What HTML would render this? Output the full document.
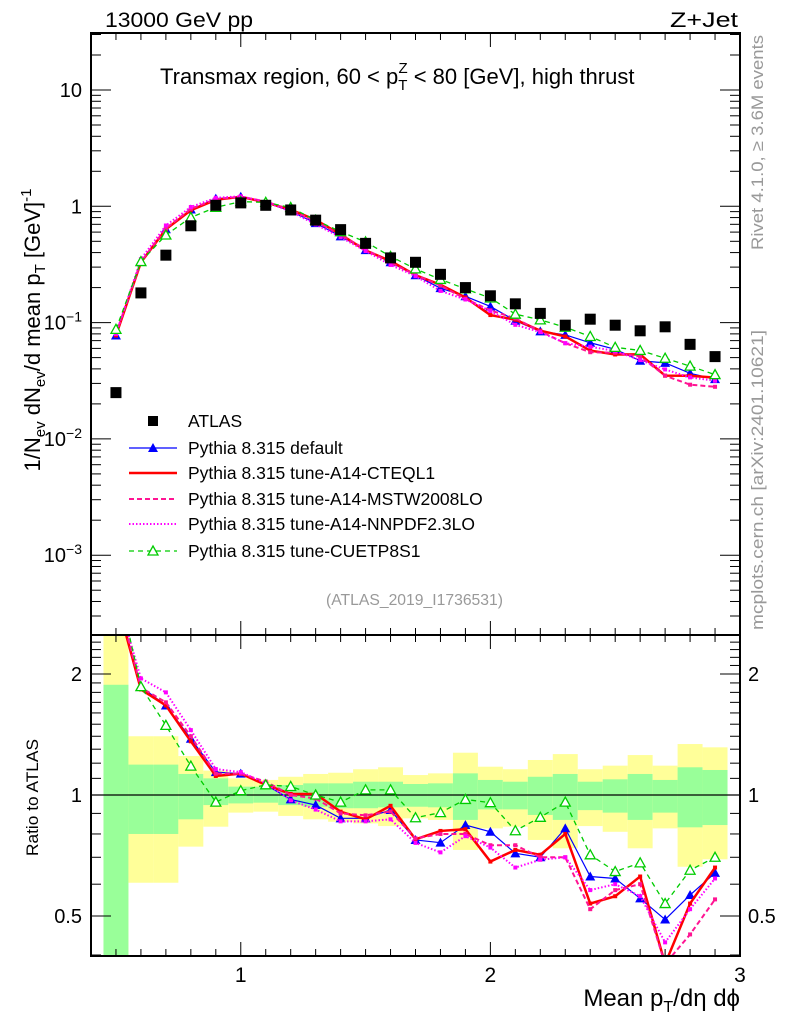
<!DOCTYPE html>
<html><head><meta charset="utf-8"><style>
body{margin:0;background:#fff;}
svg{display:block;font-family:"Liberation Sans",sans-serif;}
</style></head><body>
<svg id="c" width="786" height="1024" viewBox="0 0 786 1024">
<g id="bands"></g><g id="series"></g><g id="axes"></g>
<text x="105" y="27" font-size="21" textLength="148" lengthAdjust="spacingAndGlyphs">13000 GeV pp</text>
<text x="670" y="27" font-size="21" textLength="68" lengthAdjust="spacingAndGlyphs">Z+Jet</text>
<text x="160" y="84" font-size="22">Transmax region, 60 &lt; p<tspan font-size="15" dy="6">T</tspan><tspan font-size="15" dx="-9" dy="-17">Z</tspan><tspan dy="11"> &lt; 80 [GeV], high thrust</tspan></text>
<text transform="translate(40,330) rotate(-90)" font-size="22" text-anchor="middle">1/N<tspan font-size="15" dy="5">ev</tspan><tspan dy="-5"> dN</tspan><tspan font-size="15" dy="5">ev</tspan><tspan dy="-5">/d mean p</tspan><tspan font-size="15" dy="5">T</tspan><tspan dy="-5"> [GeV]</tspan><tspan font-size="15" dy="-9">-1</tspan></text>
<text transform="translate(763,250) rotate(-90)" font-size="17" fill="#999" textLength="215" lengthAdjust="spacingAndGlyphs">Rivet 4.1.0, ≥ 3.6M events</text>
<text transform="translate(763,630) rotate(-90)" font-size="17" fill="#999" textLength="300" lengthAdjust="spacingAndGlyphs">mcplots.cern.ch [arXiv:2401.10621]</text>
<text x="326" y="605" font-size="16" fill="#999" textLength="177" lengthAdjust="spacingAndGlyphs">(ATLAS_2019_I1736531)</text>
<text transform="translate(38,856) rotate(-90)" font-size="17" textLength="117" lengthAdjust="spacingAndGlyphs">Ratio to ATLAS</text>
<text x="740" y="1006" font-size="24" text-anchor="end">Mean p<tspan font-size="16" dy="6">T</tspan><tspan dy="-6">/dη dϕ</tspan></text>
<g id="legend"></g>
</svg>
<script>
const xs=[0.5,0.6,0.7,0.8,0.9,1.0,1.1,1.2,1.3,1.4,1.5,1.6,1.7,1.8,1.9,2.0,2.1,2.2,2.3,2.4,2.5,2.6,2.7,2.8,2.9];
const atlas=[0.025,0.18,0.38,0.68,1.02,1.07,1.02,0.93,0.76,0.63,0.48,0.36,0.33,0.26,0.2,0.17,0.145,0.12,0.095,0.107,0.095,0.085,0.092,0.065,0.051];
const rDefault=[3.1,1.86,1.67,1.38,1.14,1.13,1.06,0.975,0.944,0.875,0.875,0.918,0.773,0.761,0.842,0.81,0.716,0.70,0.826,0.627,0.62,0.553,0.49,0.564,0.64];
const rCTEQ=[3.1,1.83,1.67,1.36,1.115,1.13,1.06,1.006,1.006,0.909,0.87,0.94,0.776,0.814,0.822,0.683,0.73,0.71,0.80,0.537,0.56,0.627,0.38,0.537,0.66];
const rMSTW=[3.2,1.85,1.7,1.4,1.13,1.13,1.08,1.0,0.98,0.9,0.89,0.91,0.78,0.8,0.8,0.75,0.75,0.7,0.7,0.52,0.58,0.6,0.38,0.45,0.55];
const rNNPDF=[3.2,1.95,1.8,1.45,1.16,1.14,1.07,0.97,0.92,0.86,0.86,0.87,0.76,0.72,0.79,0.74,0.66,0.69,0.7,0.58,0.6,0.56,0.43,0.52,0.62];
const rCUETP=[3.5,1.86,1.49,1.18,0.96,1.025,1.06,1.05,1.0,0.96,1.03,1.03,0.878,0.904,0.975,0.957,0.815,0.88,0.96,0.71,0.645,0.678,0.537,0.65,0.70];
const yelHi=[3,1.40,1.40,1.25,1.15,1.10,1.09,1.11,1.128,1.136,1.159,1.172,1.121,1.132,1.274,1.176,1.159,1.222,1.264,1.159,1.183,1.257,1.183,1.339,1.314];
const grnHi=[1.88,1.19,1.19,1.128,1.10,1.049,1.049,1.059,1.069,1.069,1.079,1.079,1.065,1.069,1.132,1.09,1.079,1.11,1.128,1.079,1.094,1.128,1.09,1.172,1.154];
const grnLo=[0.3,0.80,0.80,0.87,0.944,0.953,0.957,0.944,0.935,0.927,0.927,0.932,0.935,0.932,0.867,0.921,0.921,0.892,0.867,0.917,0.904,0.867,0.904,0.831,0.842];
const yelLo=[0.3,0.605,0.605,0.744,0.834,0.904,0.909,0.887,0.87,0.858,0.85,0.837,0.875,0.867,0.73,0.826,0.834,0.773,0.737,0.837,0.81,0.737,0.826,0.663,0.692];
const mainTicks=[10,1,0.1,0.01,0.001];
const mainTickLabels=["10","1","10<tspan font-size='14' dy='-8'>−1</tspan>","10<tspan font-size='14' dy='-8'>−2</tspan>","10<tspan font-size='14' dy='-8'>−3</tspan>"];
const ratioTicks=[2,1,0.5];
const ratioTickLabels=["2","1","0.5"];
const xTicks=[1,2,3];

const NS="http://www.w3.org/2000/svg";
const L=91,R=740,T=33,MB=635,RB=956;
const X=v=>L+(v-0.4)*(R-L)/2.6;
const Y=v=>90-(Math.log10(v)-1)*116.3;
const YR=v=>795-Math.log(v)*174.6;
function el(tag,attrs,parent){const e=document.createElementNS(NS,tag);for(const k in attrs)e.setAttribute(k,attrs[k]);parent.appendChild(e);return e;}
const bands=document.getElementById('bands'),ser=document.getElementById('series'),ax=document.getElementById('axes'),leg=document.getElementById('legend');
const clampR=v=>Math.min(YR(Math.max(v,0.39)),RB);
const clampT=v=>Math.max(YR(Math.min(v,2.6)),MB);
xs.forEach((x,i)=>{
  const x0=X(x-0.05),w=X(x+0.05)-x0;
  let r=el('rect',{x:x0,y:clampT(yelHi[i]),width:w,height:clampR(yelLo[i])-clampT(yelHi[i]),fill:'#ffff99'},bands);
  
  
  r=el('rect',{x:x0,y:clampT(grnHi[i]),width:w,height:clampR(grnLo[i])-clampT(grnHi[i]),fill:'#99ff99'},bands);
  
  
});
const defs=el('defs',{},document.getElementById('c'));
const cp1=el('clipPath',{id:'cm'},defs);el('rect',{x:L,y:T,width:R-L,height:MB-T},cp1);
const cp2=el('clipPath',{id:'cr'},defs);el('rect',{x:L,y:MB,width:R-L,height:RB-MB},cp2);
let ul=el('line',{x1:L,x2:R,y1:YR(1),y2:YR(1),stroke:'#000','stroke-width':1.2},ser);


const series=[
 {name:'default',r:rDefault,c:'#0000ff',w:1.2,d:'',m:'tri'},
 {name:'cteql1',r:rCTEQ,c:'#ff0000',w:2.5,d:'',m:'none'},
 {name:'mstw2008lo',r:rMSTW,c:'#ff1493',w:2,d:'5,3',m:'none'},
 {name:'nnpdf23lo',r:rNNPDF,c:'#ff00ff',w:2,d:'1.5,2',m:'none'},
 {name:'cuetp8s1',r:rCUETP,c:'#00cc00',w:1.3,d:'5,4',m:'otri'}
];
series.forEach(s=>{
  const gm=el('g',{'clip-path':'url(#cm)'},ser);
  
  
  const gr=el('g',{'clip-path':'url(#cr)'},ser);
  
  
  const pm=xs.map((x,i)=>X(x)+','+Y(atlas[i]*s.r[i])).join(' ');
  const pr=xs.map((x,i)=>X(x)+','+YR(s.r[i])).join(' ');
  el('polyline',{points:pm,fill:'none',stroke:s.c,'stroke-width':s.w,'stroke-dasharray':s.d},gm);
  el('polyline',{points:pr,fill:'none',stroke:s.c,'stroke-width':s.w,'stroke-dasharray':s.d},gr);
  xs.forEach((x,i)=>{
    [[gm,Y(atlas[i]*s.r[i])],[gr,YR(s.r[i])]].forEach(([g,y])=>{
      const px=X(x);
      if(s.m==='tri'){const m=el('path',{d:`M${px},${y-5} L${px+5},${y+4} L${px-5},${y+4}Z`,fill:s.c},g);}
      else if(s.m==='otri'){const m=el('path',{d:`M${px},${y-5} L${px+5},${y+4} L${px-5},${y+4}Z`,fill:'#fff',stroke:s.c,'stroke-width':1.3},g);}
      else {const m=el('rect',{x:px-2,y:y-2,width:4,height:4,fill:s.c},g);}
    });
  });
});
xs.forEach((x,i)=>{
  const r=el('rect',{x:X(x)-5.5,y:Y(atlas[i])-5.5,width:11,height:11,fill:'#000'},ser);
  
  
});
[[T,MB],[MB,RB]].forEach(([a,b])=>{el('rect',{x:L,y:a,width:R-L,height:b-a,fill:'none',stroke:'#000','stroke-width':2},ax);});
for(let v=0.5;v<3.0;v+=0.1){const px=X(v);const major=Math.abs(v-Math.round(v))<1e-6;const len=major?14:7;
  [T,MB].forEach(y=>el('line',{x1:px,x2:px,y1:y,y2:y+len,stroke:'#000','stroke-width':1},ax));
  [MB,RB].forEach(y=>el('line',{x1:px,x2:px,y1:y,y2:y-len,stroke:'#000','stroke-width':1},ax));}
xTicks.forEach(v=>{const t=el('text',{x:X(v),y:982,'font-size':21,'text-anchor':'middle'},ax);t.textContent=v;});
for(let e=-4;e<=1;e++){for(let k=1;k<10;k++){const v=k*Math.pow(10,e);const y=Y(v);if(y<T||y>MB)continue;const len=k===1?20:10;
  el('line',{x1:L,x2:L+len,y1:y,y2:y,stroke:'#000'},ax);el('line',{x1:R,x2:R-len,y1:y,y2:y,stroke:'#000'},ax);}}
mainTicks.forEach((v,i)=>{const t=el('text',{x:82,y:Y(v)+7,'font-size':20,'text-anchor':'end'},ax);t.innerHTML=mainTickLabels[i];});
for(let v=0.4;v<=2.55;v+=0.1){const y=YR(v);if(y<MB||y>RB)continue;const maj=[0.5,1,2].some(m=>Math.abs(m-v)<1e-6);const len=maj?20:10;
  el('line',{x1:L,x2:L+len,y1:y,y2:y,stroke:'#000'},ax);el('line',{x1:R,x2:R-len,y1:y,y2:y,stroke:'#000'},ax);}
ratioTicks.forEach((v,i)=>{[[82,'end'],[748,'start']].forEach(([x,a])=>{const t=el('text',{x:x,y:YR(v)+7,'font-size':20,'text-anchor':a},ax);t.textContent=ratioTickLabels[i];});});
const legNames=['ATLAS','Pythia 8.315 default','Pythia 8.315 tune-A14-CTEQL1','Pythia 8.315 tune-A14-MSTW2008LO','Pythia 8.315 tune-A14-NNPDF2.3LO','Pythia 8.315 tune-CUETP8S1'];
const legY=[421,448,473,499,524,551];
legNames.forEach((n,i)=>{
  const g=el('g',{},leg);
  
  
  const y=legY[i];
  if(i===0){el('rect',{x:148,y:y-5,width:10,height:10,fill:'#000'},g);}
  else{const s=series[i-1];el('line',{x1:129,x2:177,y1:y,y2:y,stroke:s.c,'stroke-width':s.w,'stroke-dasharray':s.d},g);
    if(s.m==='tri')el('path',{d:`M153,${y-5} L158,${y+4} L148,${y+4}Z`,fill:s.c},g);
    if(s.m==='otri')el('path',{d:`M153,${y-5} L158,${y+4} L148,${y+4}Z`,fill:'#fff',stroke:s.c,'stroke-width':1.3},g);}
  const t=el('text',{x:188,y:y+6,'font-size':17.5},g);t.textContent=n;
});
</script>
</body></html>
